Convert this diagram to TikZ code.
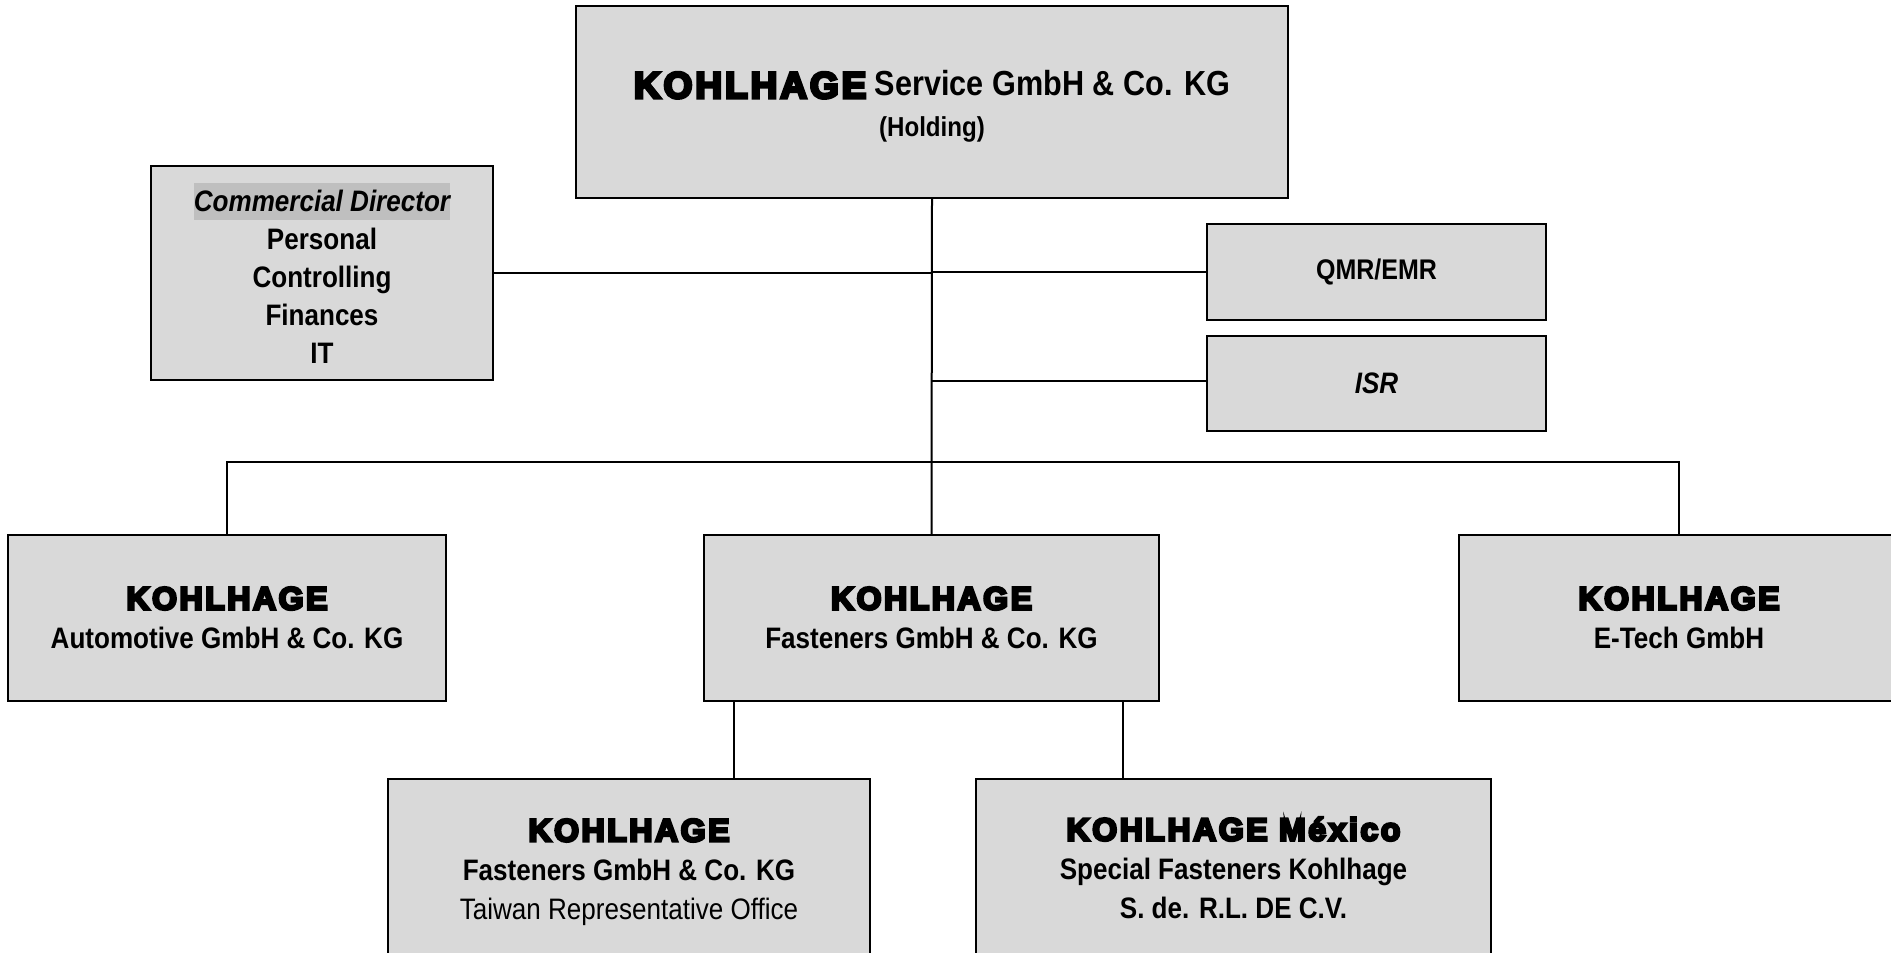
\documentclass[tikz,border=0pt]{standalone}
\usepackage{fontspec}
\setmainfont{Liberation Sans}
\newfontfamily\nar{Liberation Sans}[FakeStretch=0.88]
\newfontfamily\blk{Liberation Sans}[BoldFeatures={FakeBold=8,LetterSpace=8}]
\definecolor{boxfill}{HTML}{D9D9D9}
\definecolor{hl}{HTML}{BFBFBF}
\newcommand\blkt[2][16]{{\blk\bfseries\fontsize{#1}{19.5}\selectfont #2}}
\tikzset{
  orgbox/.style={draw=black, line width=1.2pt, fill=boxfill, rectangle, inner sep=0pt, align=center,
    font=\nar\bfseries\fontsize{14.8}{19.5}\selectfont},
  link/.style={draw=black, line width=1pt},
  thinlink/.style={draw=black, line width=0.7pt},
}
\begin{document}
\begin{tikzpicture}[x=0.5pt,y=-0.5pt]
\useasboundingbox (0,0) rectangle (1891,953);
\clip (0,0) rectangle (1891,953);

\node[orgbox, minimum width=356pt, minimum height=96pt, font=\nar\bfseries\fontsize{17.4}{20.5}\selectfont] (top) at (932,102)
  {\rule{0pt}{16.5pt}\raisebox{-1.5pt}{\blkt[18.5]{KOHLHAGE}} Service GmbH \& Co. KG\\ {\fontsize{13.7}{20.5}\selectfont (Holding)}};

\node[orgbox, minimum width=171pt, minimum height=107pt, font=\nar\bfseries\fontsize{14.8}{19}\selectfont] (cd) at (322,273)
  {{\fboxsep=0pt\colorbox{hl}{\rule[-4pt]{0pt}{18.5pt}\itshape Commercial Director}}\\ Personal\\ Controlling\\ Finances\\ IT};

\node[orgbox, minimum width=169.5pt, minimum height=48pt, font=\nar\bfseries\fontsize{14.2}{19}\selectfont] (qmr) at (1376.5,272) {\raisebox{-1.5pt}{QMR/EMR}};
\node[orgbox, minimum width=169.5pt, minimum height=47.5pt, font=\nar\bfseries\fontsize{14.8}{19}\selectfont] (isr) at (1376.5,383.5) {\itshape ISR};

\node[orgbox, minimum width=219pt, minimum height=83pt] (auto) at (227,618)
  {\blkt{KOHLHAGE}\\ Automotive GmbH \& Co. KG};
\node[orgbox, minimum width=227.5pt, minimum height=83pt] (fast) at (931.5,618)
  {\blkt{KOHLHAGE}\\ Fasteners GmbH \& Co. KG};
\node[orgbox, minimum width=220pt, minimum height=83pt] (etech) at (1679,618)
  {\blkt{KOHLHAGE}\\ E-Tech GmbH};

\node[orgbox, minimum width=241pt, minimum height=89pt] (taiwan) at (629,868)
  {\rule{0pt}{15.5pt}\blkt{KOHLHAGE}\\ Fasteners GmbH \& Co. KG\\ {\mdseries Taiwan Representative Office}};
\node[orgbox, minimum width=257.5pt, minimum height=89pt] (mexico) at (1233.5,868)
  {\blkt{KOHLHAGE México}\\ Special Fasteners Kohlhage\\ S. de. R.L. DE C.V.};

\coordinate (bus) at (932,462);
\draw[link] (top.south) -- (fast.north);
\draw[link] (cd.east) -- (cd.east -| top.south);
\draw[link] (qmr.west) -- (qmr.west -| top.south);
\coordinate (isrl) at ([yshift=1.2pt]isr.west);
\draw[link] (isrl) -- (isrl -| top.south);
\draw[link] (auto.north) |- (bus) -| (etech.north);

\coordinate (tw) at ([xshift=-98.75pt]fast.south);
\coordinate (mx) at ([xshift=95.75pt]fast.south);
\draw[thinlink] (tw) -- (tw |- taiwan.north);
\draw[thinlink] (mx) -- (mx |- mexico.north);
\end{tikzpicture}
\end{document}
